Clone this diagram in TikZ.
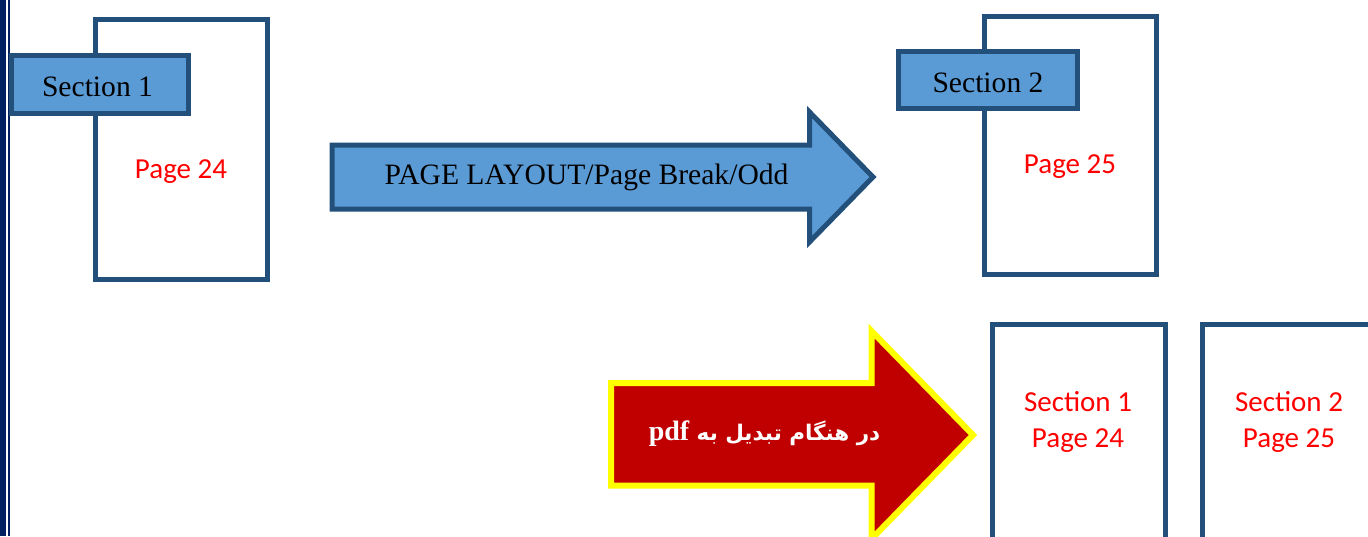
\documentclass[tikz,border=0pt]{standalone}
\usepackage{fontspec}
\setmainfont{Liberation Serif}
\newfontfamily\calib{Carlito}
\newfontfamily\arabicfont[Script=Arabic]{DejaVu Sans}
\TeXXeTstate=1
\definecolor{navy}{RGB}{0,32,96}
\definecolor{pborder}{RGB}{34,80,122}
\definecolor{pfill}{RGB}{91,155,213}
\definecolor{darkred}{RGB}{192,0,0}
\definecolor{yel}{RGB}{255,255,0}
\definecolor{redtext}{RGB}{255,0,0}
\begin{document}
\begin{tikzpicture}[x=1pt,y=-1pt,
  pagebox/.style={draw=pborder, line width=5pt, fill=white, inner sep=0pt, outer sep=0pt},
  secbox/.style={draw=pborder, line width=5pt, fill=pfill, inner sep=0pt, outer sep=0pt},
  seclbl/.style={font=\fontsize{29.6}{34}\selectfont, text=black, inner sep=0pt},
  redlbl/.style={text=redtext, font=\calib\fontsize{29}{36}\selectfont, align=center, inner sep=0pt},
  bluearrow/.style={draw=pborder, line width=5pt, fill=pfill},
  redarrow/.style={draw=yel, line width=6pt, fill=darkred},
]
\useasboundingbox (0,0) rectangle (1368,536);
\clip (0,0) rectangle (1368,536);
% left double rule
\fill[navy] (0,0) rectangle (6,536);
\draw[navy, line width=2pt] (8.8,0) -- (8.8,536);

% top left page
\node[pagebox, minimum width=172.5pt, minimum height=259.5pt] (p24) at (181.25,149.25) {};
\node[secbox, minimum width=177pt, minimum height=57.5pt] (s1) at (99.5,84.25) {};
\node[seclbl] (s1t) at (97.5,86.5) {Section 1};
\node[redlbl] (p24t) at (181,172) {Page 24};

% top right page
\node[pagebox, minimum width=172pt, minimum height=258.5pt] (p25) at (1070.5,145.25) {};
\node[secbox, minimum width=179.5pt, minimum height=57pt] (s2) at (987.75,80) {};
\node[seclbl] (s2t) at (988,82.5) {Section 2};
\node[redlbl] (p25t) at (1070,167) {Page 25};

% blue arrow
\draw[bluearrow] (332,145) -- (809.5,145) -- (809.5,112) -- (873,177) -- (809.5,242) -- (809.5,209) -- (332,209) -- cycle;
\node[seclbl] (bt) at (586.5,177.5) {PAGE LAYOUT/Page Break/Odd};

% red arrow
\draw[redarrow] (611,383) -- (871.5,383) -- (871.5,331) -- (973,435) -- (871.5,539) -- (871.5,485.5) -- (611,485.5) -- cycle;
\node[text=white, inner sep=0pt] (rt) at (764.5,434) {\arabicfont\bfseries\fontsize{21.5}{28}\selectfont\beginR در هنگام تبدیل به \beginL{\rmfamily\bfseries\fontsize{28}{32}\selectfont pdf}\endL\endR};

% bottom pages
\node[pagebox, minimum width=172.5pt, minimum height=300pt] (q1) at (1078.75,474) {};
\node[pagebox, minimum width=172.5pt, minimum height=300pt] (q2) at (1288.75,474) {};
\node[redlbl] (q1t) at (1078,421.5) {Section 1\\Page 24};
\node[redlbl] (q2t) at (1289,421.5) {Section 2\\Page 25};
\end{tikzpicture}
\end{document}
